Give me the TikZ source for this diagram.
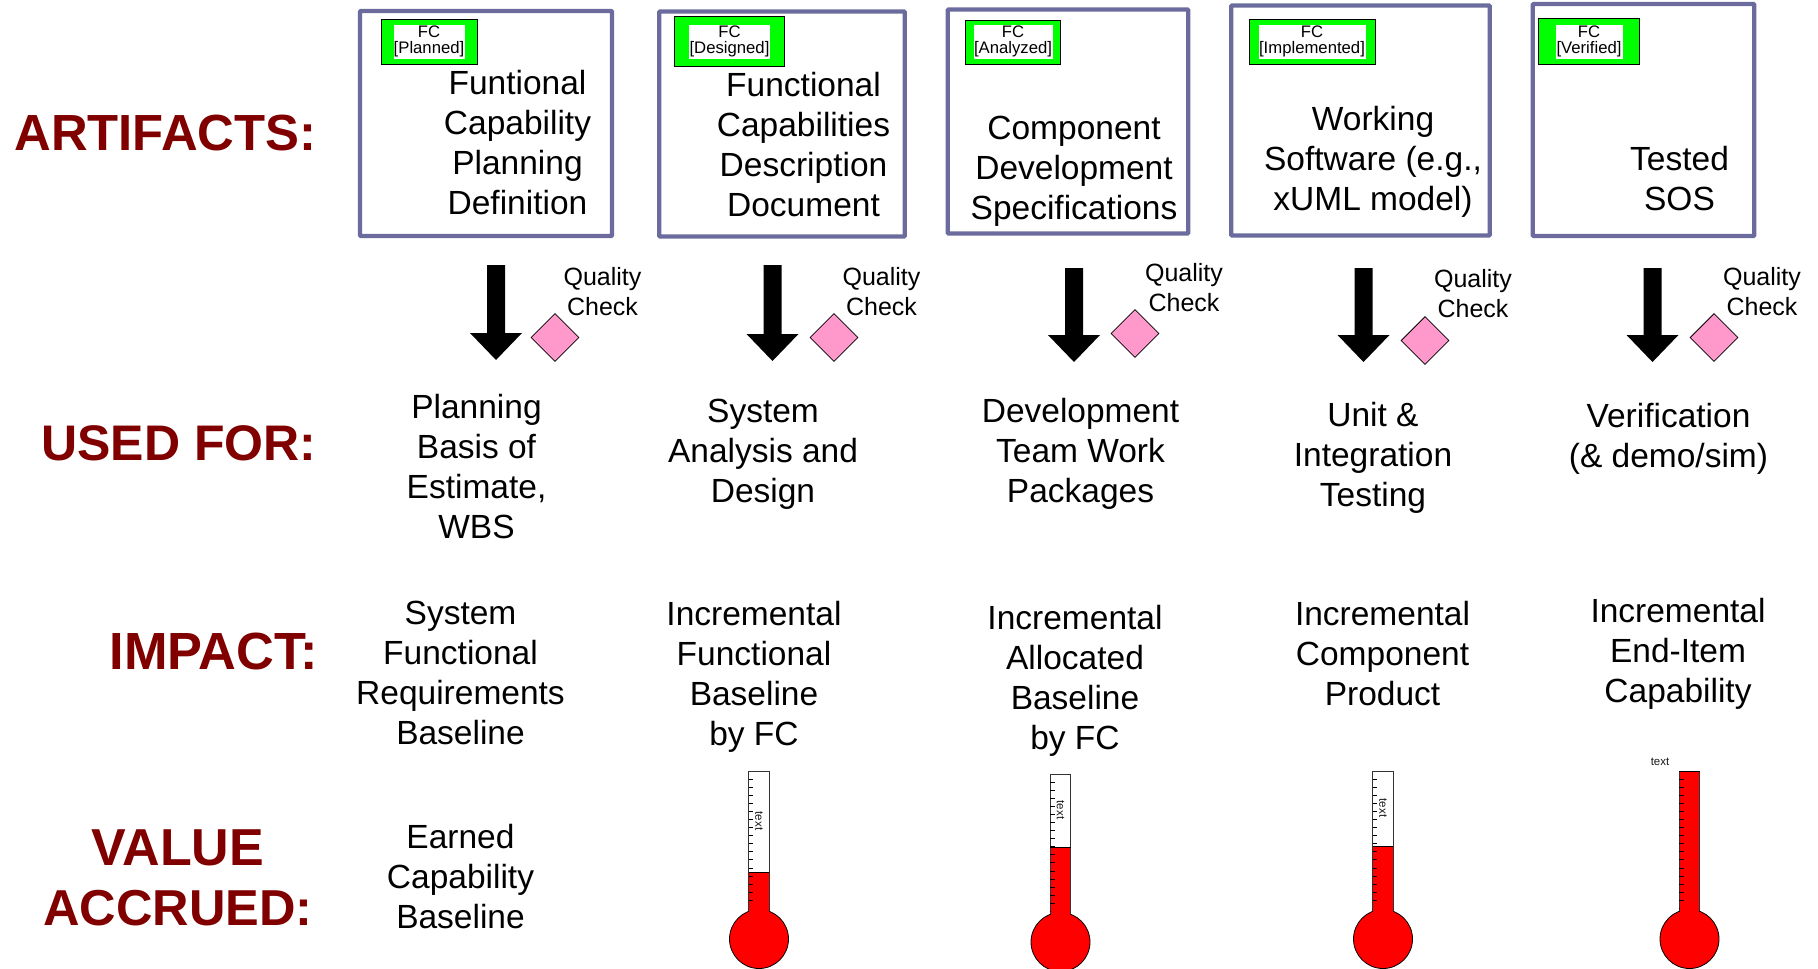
\documentclass[tikz,border=0pt]{standalone}
\usepackage{fontspec}
\setmainfont{Liberation Sans}
\usetikzlibrary{shapes.geometric}
\definecolor{framecol}{HTML}{6B6B9E}
\definecolor{headcol}{HTML}{800000}
\definecolor{pinkcol}{HTML}{FF99CC}
\definecolor{greencol}{HTML}{00FF00}
\tikzset{
  body/.style={align=center,inner sep=0pt,font=\fontsize{33.5}{40}\selectfont},
  head/.style={align=center,inner sep=0pt,text=headcol,font=\fontsize{#1}{60}\selectfont\bfseries},
  head/.default=50,
  frame/.style={draw=framecol,line width=4.4pt,fill=white,rounded corners=1pt,inner sep=0pt},
  tagbox/.style={draw=black,line width=0.8pt,fill=greencol,inner sep=0pt},
  taginner/.style={fill=white,inner sep=0pt,minimum height=34pt},
  tagtext/.style={align=center,inner sep=0pt,font=\fontsize{16.7}{16}\selectfont},
  qtext/.style={align=center,inner sep=0pt,font=\fontsize{25}{30}\selectfont},
  gate/.style={diamond,draw=black,line width=0.8pt,fill=pinkcol,inner sep=0pt,minimum width=48pt,minimum height=48pt},
  tinytext/.style={inner sep=0pt,font=\fontsize{11.5}{12}\selectfont,text=black!90},
}
% block arrow: cx, top, tip
\newcommand{\blockarrow}[3]{\fill[black] (#1-9,#2) -- (#1+9,#2) -- (#1+9,#3-27) -- (#1+26,#3-27) -- (#1,#3) -- (#1-26,#3-27) -- (#1-9,#3-27) -- cycle;}
% thermometer: cx, top, cy, level
\newcommand{\thermo}[4]{%
  \fill[white] (#1-10.3,#2) rectangle (#1+10.3,#3-28);
  \fill[red] (#1-10.3,#4) rectangle (#1+10.3,#3-25);
  \draw[black!80,line width=0.9pt] (#1-10.3,#3-27) -- (#1-10.3,#2) -- (#1+10.3,#2) -- (#1+10.3,#3-27);
  \draw[black,line width=0.7pt] (#1-10.3,#4) -- (#1+10.3,#4);
  \foreach \k in {1,...,17}{\draw[black,line width=0.7pt] (#1-10.3,#2+8.07*\k) -- ++(4.3,0);}
  \draw[black,line width=0.8pt,fill=red] (#1,#3) circle[radius=29.5];
  \fill[red] (#1-9.8,#3-31) rectangle (#1+9.8,#3-24);
}
\begin{document}
\begin{tikzpicture}[x=1pt,y=-1pt]
\useasboundingbox (0,0) rectangle (1818,969);
% headings
\node[head=50.8,anchor=east] (hA) at (316.5,133) {ARTIFACTS:};
\node[head=50,anchor=east] (hU) at (316.5,443) {USED FOR:};
\node[head=52.3,anchor=east] (hI) at (318,651) {IMPACT:};
\node[head=50.5] (hV) at (178,877.5) {{\fontsize{52}{60}\selectfont VALUE}\\ACCRUED:};
% frames
\node[frame,minimum width=252pt,minimum height=225pt] (b1) at (486,123.5) {};
\node[frame,minimum width=245.5pt,minimum height=225pt] (b2) at (782,124) {};
\node[frame,minimum width=240.5pt,minimum height=224pt] (b3) at (1068,121.5) {};
\node[frame,minimum width=258.5pt,minimum height=230pt] (b4) at (1360.5,120.5) {};
\node[frame,minimum width=221.5pt,minimum height=232pt] (b5) at (1643.5,120) {};
% tags
\node[tagbox,minimum width=96pt,minimum height=45pt] (g1) at (429,41.5) {};
\node[taginner,minimum width=71pt] (w1) at (429,42) {};
\node[tagtext] (t1) at (429,41.5) {FC\\{[Planned]}};
\node[tagbox,minimum width=110pt,minimum height=50pt] (g2) at (729.5,41.5) {};
\node[taginner,minimum width=81pt] (w2) at (729.5,42) {};
\node[tagtext] (t2) at (729.5,41.5) {FC\\{[Designed]}};
\node[tagbox,minimum width=95pt,minimum height=44pt] (g3) at (1013,42) {};
\node[taginner,minimum width=79pt] (w3) at (1013,42) {};
\node[tagtext] (t3) at (1013,41.5) {FC\\{[Analyzed]}};
\node[tagbox,minimum width=126pt,minimum height=45pt] (g4) at (1312,41.5) {};
\node[taginner,minimum width=107pt] (w4) at (1312,42) {};
\node[tagtext] (t4) at (1312,41.5) {FC\\{[Implemented]}};
\node[tagbox,minimum width=101pt,minimum height=46pt] (g5) at (1589,41.5) {};
\node[taginner,minimum width=67pt] (w5) at (1589,42) {};
\node[tagtext] (t5) at (1589,41.5) {FC\\{[Verified]}};
% artifact text
\node[body] (a1) at (517.5,143) {Funtional\\Capability\\Planning\\Definition};
\node[body] (a2) at (803.5,145) {Functional\\Capabilities\\Description\\Document};
\node[body] (a3) at (1074,171) {Component\\Development\\Specifications};
\node[body] (a4) at (1373,162) {Working\\Software (e.g.,\\xUML model)};
\node[body] (a5) at (1679.5,179) {Tested\\SOS};
% arrows
\blockarrow{496}{265}{360}
\blockarrow{772.5}{265}{361}
\blockarrow{1074}{268}{362}
\blockarrow{1363.5}{268}{362}
\blockarrow{1652.5}{268}{362}
% diamonds
\node[gate] (d1) at (555,337.5) {};
\node[gate] (d2) at (834,337.5) {};
\node[gate] (d3) at (1135,333.5) {};
\node[gate] (d4) at (1425,340.5) {};
\node[gate] (d5) at (1714,337.5) {};
\node[qtext] (q1) at (602.5,292) {Quality\\Check};
\node[qtext] (q2) at (881.5,292) {Quality\\Check};
\node[qtext] (q3) at (1184,288) {Quality\\Check};
\node[qtext] (q4) at (1473,294) {Quality\\Check};
\node[qtext] (q5) at (1762,292) {Quality\\Check};
% used for
\node[body] (u1) at (476.5,467) {Planning\\Basis of\\Estimate,\\WBS};
\node[body] (u2) at (763,454) {System\\Analysis and\\Design};
\node[body] (u3) at (1080.5,454) {Development\\Team Work\\Packages};
\node[body] (u4) at (1373,457.5) {Unit \&\\Integration\\Testing};
\node[body] (u5) at (1668.5,439) {Verification\\(\& demo/sim)};
% impact
\node[body] (i1) at (460.5,672.5) {System\\Functional\\Requirements\\Baseline};
\node[body] (i2) at (754,677) {Incremental\\Functional\\Baseline\\by FC};
\node[body] (i3) at (1075,681) {Incremental\\Allocated\\Baseline\\by FC};
\node[body] (i4) at (1382.5,654) {Incremental\\Component\\Product};
\node[body] (i5) at (1678,654) {Incremental\\End-Item\\Capability};
% value
\node[body] (v1) at (460.5,877) {Earned\\Capability\\Baseline};
% thermometers
\thermo{759}{771}{939}{872}
\thermo{1060.5}{774}{942}{847}
\thermo{1383}{771}{939}{846}
\thermo{1689.5}{771}{939}{771}
\node[tinytext,rotate=-90] (x1) at (759,821) {text};
\node[tinytext,rotate=-90] (x2) at (1060.5,810) {text};
\node[tinytext,rotate=-90] (x3) at (1383,808) {text};
\node[tinytext] (x4) at (1660,761.5) {text};
\end{tikzpicture}
\end{document}
